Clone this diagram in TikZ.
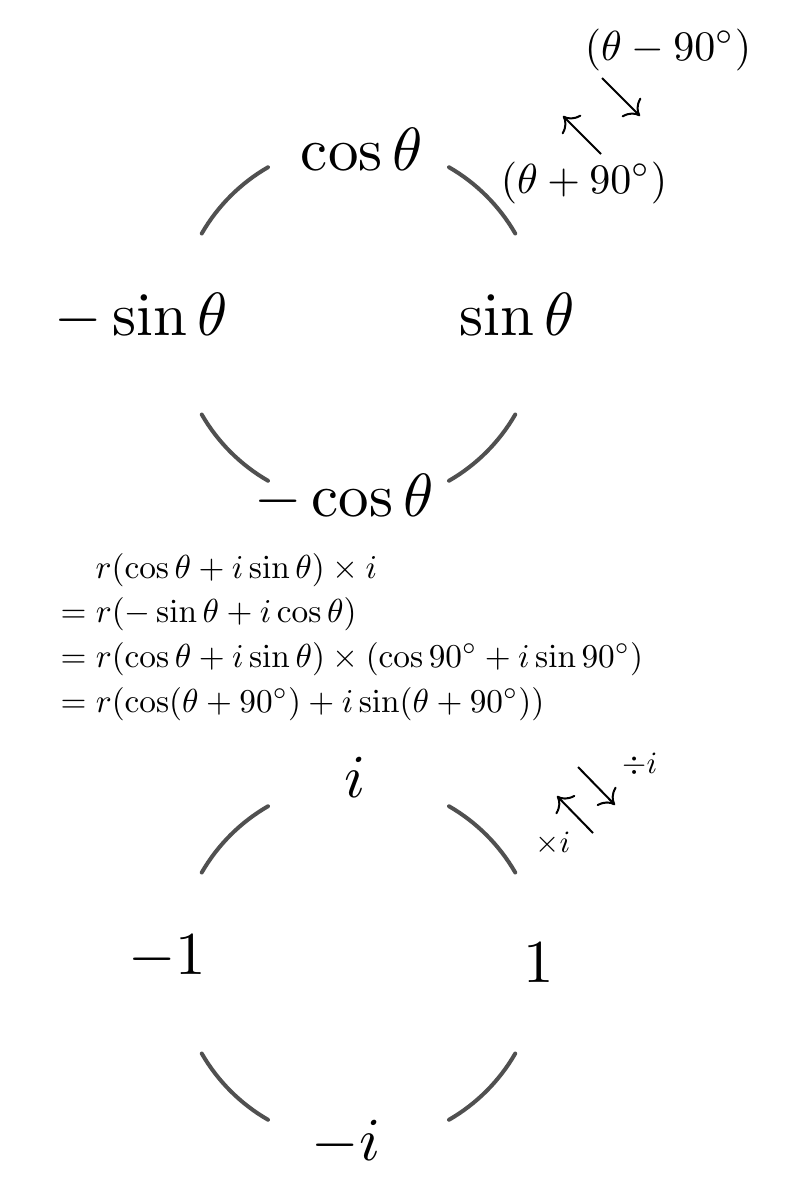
\documentclass[tikz,border=0pt]{standalone}
\usetikzlibrary{arrows.meta,calc}
\definecolor{arcgray}{RGB}{80,80,80}
\tikzset{
  arcline/.style={line width=4pt, draw=arcgray, line cap=round},
  arr/.style={line width=2pt, -{Computer Modern Rightarrow[length=13pt,width=27pt]}},
  biglab/.style={inner sep=0pt, anchor=base, scale=6.1},
  midlab/.style={inner sep=0pt, anchor=base, scale=4.2},
  smalllab/.style={inner sep=0pt, anchor=base, scale=3.1},
  eqline/.style={inner sep=0pt, anchor=base west, scale=3.33},
}
\begin{document}
\begin{tikzpicture}[x=1pt,y=-1pt]
\useasboundingbox (0,0) rectangle (788,1200);
% circle centres
\coordinate (c1) at (358.5,324);
\coordinate (c2) at (358.5,963);
% arcs
\foreach \a in {30,120,210,300} {
  \draw[arcline] ($(c1)+(-\a:181)$) arc[start angle=-\a, end angle=-\a-30, radius=181];
  \draw[arcline] ($(c2)+(-\a:181)$) arc[start angle=-\a, end angle=-\a-30, radius=181];
}
% upper circle labels
\node[biglab] (cos) at (362,170) {$\cos\theta$};
\node[biglab] (sin) at (517,335) {$\sin\theta$};
\node[biglab] (msin) at (141,335) {$-\sin\theta$};
\node[biglab] (mcos) at (344,516) {$-\cos\theta$};
\node[midlab] (tm) at (668,60) {$(\theta-90^\circ)$};
\node[midlab] (tp) at (584,193) {$(\theta+90^\circ)$};
\coordinate (a1s) at (602,78);
\coordinate (a1e) at (640,116);
\coordinate (a2s) at (601,154);
\coordinate (a2e) at (563,116);
\draw[arr] (a1s) -- (a1e);
\draw[arr] (a2s) -- (a2e);
% equations
\node[eqline] (e1) at (95,578) {$r(\cos\theta+i\sin\theta)\times i$};
\node[eqline] (e2) at (60,622) {$=r(-\sin\theta+i\cos\theta)$};
\node[eqline] (e3) at (60,667) {$=r(\cos\theta+i\sin\theta)\times(\cos90^\circ+i\sin90^\circ)$};
\node[eqline] (e4) at (60,712) {$=r(\cos(\theta+90^\circ)+i\sin(\theta+90^\circ))$};
% lower circle labels
\node[biglab] (ii) at (355,797) {$i$};
\node[biglab] (mone) at (167,974) {$-1$};
\node[biglab] (one) at (539,982) {$1$};
\node[biglab] (mi) at (346,1160) {$-i$};
\node[smalllab] (divi) at (640,773) {$\div i$};
\node[smalllab] (timesi) at (553,852) {$\times i$};
\coordinate (b1s) at (593,833);
\coordinate (b1e) at (557,796);
\coordinate (b2s) at (578,767);
\coordinate (b2e) at (615,805);
\draw[arr] (b1s) -- (b1e);
\draw[arr] (b2s) -- (b2e);
\end{tikzpicture}
\end{document}
